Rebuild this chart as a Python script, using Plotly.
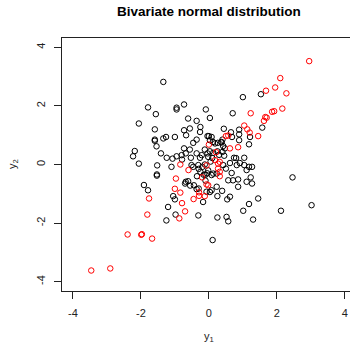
import plotly.graph_objects as go

# Independent pairs (black) and correlated pairs (red)
black_y1 = [
    -1.34, -1.79, -1.56, -0.95, -0.95, -0.73, -0.09, -2.06, -1.59, -0.61,
    -0.36, -0.73, -0.56, -0.25, -0.26, -0.67, -1.00, -1.34, -1.26, -1.59,
    -1.59, -0.36, -0.46, -0.04, -1.54, -2.18, -2.23, -1.41, -1.24, -1.07,
    -0.95, -0.80, -0.73, -0.56, -0.68, -0.53, -0.36, -0.26, -0.21, -0.12,
    -0.04, -0.02, 1.53, 1.00, 0.03, 0.70, 1.57, 0.89, 0.89, 1.21,
    1.18, 0.89, 0.44, 0.65, 0.68, 0.40, 0.37, 0.74, 1.04, 0.00,
    0.08, 0.03, 0.12, 0.18, 0.26, 0.37, 0.42, 0.47, 0.03, 0.13,
    0.25, 0.30, 0.40, 0.45, 0.05, 0.10, 0.80, 0.91, 0.62, 0.82,
    1.04, 0.42, 0.50, -2.06, -1.52, -1.53, -1.53, -1.10, -0.79, -0.51,
    -0.46, -0.31, -0.19, -0.12, -1.91, -1.79, -1.25, -1.20, -0.98, -0.31,
    -1.05, -1.00, -0.70, -0.68, -0.61, -0.44, -0.17, -0.30, -0.25, -0.35,
    -0.15, -0.10, -0.05, 2.46, 3.02, 2.12, 1.45, 1.18, 1.30, 1.01,
    0.11, 0.25, 0.52, 0.57, 0.54, 0.62, 0.25, 0.39, 0.03, 0.08,
    0.23, 0.86, 0.57, 0.71, 0.86, 1.11, 1.27, 1.23, 0.67, 1.11,
    1.18, 1.27, 0.23, 0.13, 0.08, -0.10, -0.02, -0.55, -0.36, -0.30,
    -0.07,
]
black_y2 = [
    2.82, 1.95, 1.72, 1.94, 1.88, 2.05, 1.88, 1.40, 1.20, 1.57,
    1.49, 1.17, 1.23, 1.28, 1.11, 1.00, 0.94, 0.89, 0.94, 0.85,
    0.81, 0.85, 0.74, 0.97, 0.62, 0.46, 0.28, 0.38, 0.23, 0.20,
    0.28, 0.32, 0.55, 0.51, 0.38, 0.23, 0.38, 0.23, 0.32, 0.51,
    0.38, 0.26, 2.40, 2.30, 1.59, 1.75, 1.26, 1.19, 1.03, 0.94,
    0.69, 0.83, 1.22, 1.10, 0.94, 0.85, 0.75, 0.23, 0.23, 0.97,
    0.94, 0.83, 0.77, 0.72, 0.74, 0.77, 0.63, 0.55, 0.45, 0.40,
    0.45, 0.33, 0.43, 0.30, 0.10, 0.22, 0.22, 0.05, 0.05, -0.02,
    -0.02, -0.02, -0.14, 0.03, -0.03, -0.34, -0.38, -0.08, 0.17, -0.02,
    -0.08, -0.02, -0.08, 0.00, -0.70, -0.88, -1.91, -1.45, -1.71, -1.74,
    -1.08, -1.19, -0.65, -0.59, -0.57, -0.71, -1.28, -0.15, -0.25, -0.40,
    -0.35, -0.55, -0.30, -0.44, -1.39, -1.58, -1.16, -1.35, -1.88, -1.58,
    -2.58, -1.81, -1.79, -1.94, -1.19, -1.10, -1.08, -0.90, -0.94, -0.88,
    -0.76, -0.76, -0.54, -0.54, -0.51, -0.59, -0.65, -0.44, -0.29, -0.19,
    -0.08, -0.08, -0.31, -0.31, -0.36, -0.35, -0.20, -0.72, -0.84, -0.82,
    -0.93,
]

red_y1 = [
    2.95, 2.10, 1.95, 1.68, 2.28, 1.23, 1.86, 1.92, 2.16, 1.66,
    1.70, 1.62, 1.04, 1.13, 1.20, 1.45, 0.86, 0.50, 0.57, 0.62,
    0.00, 0.21, 0.32, 0.32, 0.27, 0.27, 0.18, -0.07, -0.20, -0.07,
    -0.02, -0.29, -0.29, -0.12, -0.45, -0.84, -0.60, -0.97, -1.00, -0.84,
    -0.79, -0.70, -0.87, -1.76, -1.81, -2.39, -1.99, -1.97, -1.67, -3.46,
    -2.90, 0.32,
]
red_y2 = [
    3.53, 2.95, 2.63, 2.52, 2.43, 1.75, 1.80, 1.82, 1.91, 1.62,
    1.60, 1.49, 1.33, 1.20, 1.09, 0.97, 0.59, 0.97, 0.99, 0.55,
    0.68, 0.42, -0.25, -0.40, -0.14, 0.03, 0.15, -0.03, -0.44, -0.68,
    -0.71, -0.95, -1.07, -1.08, -1.18, 0.00, -0.19, -0.48, -0.83, -0.96,
    -1.32, -1.60, -1.84, -1.16, -1.71, -2.39, -2.40, -2.38, -2.53, -3.62,
    -3.55, 0.09,
]

tick_vals = [-4, -2, 0, 2, 4]
tick_text = ["-4", "-2", "0", "2", "4"]

FONT = "Liberation Sans, Arial, sans-serif"
W, H = 350, 347
L, T, B = 62, 38, 56

marker_common = dict(symbol="circle-open", size=5.5)

fig = go.Figure()
fig.add_trace(go.Scatter(
    x=black_y1, y=black_y2, mode="markers",
    marker=dict(color="black", line=dict(width=1, color="black"), **marker_common),
    showlegend=False, hoverinfo="skip",
))
fig.add_trace(go.Scatter(
    x=red_y1, y=red_y2, mode="markers",
    marker=dict(color="red", line=dict(width=1, color="red"), **marker_common),
    showlegend=False, hoverinfo="skip",
))

# x range: 34 px per unit with 0 at 209 px; right edge of the box runs past the page
x_lo = -4.32
x_hi = x_lo + (W - L) / 34.0

axis_common = dict(
    tickmode="array", tickvals=tick_vals, ticktext=tick_text,
    ticks="outside", ticklen=7, tickwidth=1, tickcolor="#222",
    showline=True, linecolor="#222", linewidth=1,
    showgrid=False, zeroline=False,
    tickfont=dict(family=FONT, size=11, color="#222"),
)

fig.update_xaxes(range=[x_lo, x_hi], mirror=True, ticklabelstandoff=5, **axis_common)
fig.update_yaxes(range=[-4.32, 4.32], tickangle=-90, ticklabelstandoff=5, **axis_common)

plot_w = W - L
plot_h = H - T - B
cx = (209 - L) / plot_w

fig.update_layout(
    width=W, height=H,
    margin=dict(l=L, r=0, t=T, b=B, pad=0),
    paper_bgcolor="white", plot_bgcolor="white",
    annotations=[
        dict(text="<b>Bivariate normal distribution</b>", x=cx, y=1 + (T - 12) / plot_h,
             xref="paper", yref="paper", showarrow=False, xanchor="center", yanchor="middle",
             font=dict(family=FONT, size=13.5, color="black")),
        dict(text="y<sub>1</sub>", x=cx, y=-(337 - (T + plot_h)) / plot_h,
             xref="paper", yref="paper", showarrow=False, xanchor="center", yanchor="middle",
             font=dict(family=FONT, size=11, color="#222")),
        dict(text="y<sub>2</sub>", x=-(L - 13) / plot_w, y=(T + plot_h - 164) / plot_h,
             xref="paper", yref="paper", showarrow=False, xanchor="center", yanchor="middle",
             textangle=-90, font=dict(family=FONT, size=11, color="#222")),
    ],
)

fig.write_html("out.html")
